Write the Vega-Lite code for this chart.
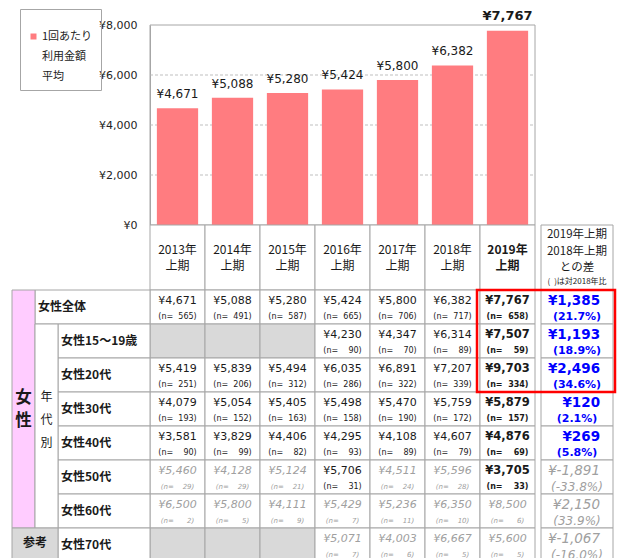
{
  "$schema": "https://vega.github.io/schema/vega-lite/v6.json",
  "width": 619,
  "height": 558,
  "autosize": {"type": "none"},
  "padding": 0,
  "config": {
    "view": {"stroke": null},
    "font": "Noto Sans CJK JP",
    "locale": {"number": {"decimal": ".", "thousands": ",", "grouping": [3], "currency": ["¥", ""], "minus": "-"}},
    "style": {"guide-label": {"lineHeight": 20}}
  },
  "datasets": {
    "table": [
      {"seg": "女性全体", "year": "2013", "value": 4671, "n": 565},
      {"seg": "女性全体", "year": "2014", "value": 5088, "n": 491},
      {"seg": "女性全体", "year": "2015", "value": 5280, "n": 587},
      {"seg": "女性全体", "year": "2016", "value": 5424, "n": 665},
      {"seg": "女性全体", "year": "2017", "value": 5800, "n": 706},
      {"seg": "女性全体", "year": "2018", "value": 6382, "n": 717},
      {"seg": "女性全体", "year": "2019", "value": 7767, "n": 658},
      {"seg": "女性15～19歳", "year": "2013", "value": null, "n": null},
      {"seg": "女性15～19歳", "year": "2014", "value": null, "n": null},
      {"seg": "女性15～19歳", "year": "2015", "value": null, "n": null},
      {"seg": "女性15～19歳", "year": "2016", "value": 4230, "n": 90},
      {"seg": "女性15～19歳", "year": "2017", "value": 4347, "n": 70},
      {"seg": "女性15～19歳", "year": "2018", "value": 6314, "n": 89},
      {"seg": "女性15～19歳", "year": "2019", "value": 7507, "n": 59},
      {"seg": "女性20代", "year": "2013", "value": 5419, "n": 251},
      {"seg": "女性20代", "year": "2014", "value": 5839, "n": 206},
      {"seg": "女性20代", "year": "2015", "value": 5494, "n": 312},
      {"seg": "女性20代", "year": "2016", "value": 6035, "n": 286},
      {"seg": "女性20代", "year": "2017", "value": 6891, "n": 322},
      {"seg": "女性20代", "year": "2018", "value": 7207, "n": 339},
      {"seg": "女性20代", "year": "2019", "value": 9703, "n": 334},
      {"seg": "女性30代", "year": "2013", "value": 4079, "n": 193},
      {"seg": "女性30代", "year": "2014", "value": 5054, "n": 152},
      {"seg": "女性30代", "year": "2015", "value": 5405, "n": 163},
      {"seg": "女性30代", "year": "2016", "value": 5498, "n": 158},
      {"seg": "女性30代", "year": "2017", "value": 5470, "n": 190},
      {"seg": "女性30代", "year": "2018", "value": 5759, "n": 172},
      {"seg": "女性30代", "year": "2019", "value": 5879, "n": 157},
      {"seg": "女性40代", "year": "2013", "value": 3581, "n": 90},
      {"seg": "女性40代", "year": "2014", "value": 3829, "n": 99},
      {"seg": "女性40代", "year": "2015", "value": 4406, "n": 82},
      {"seg": "女性40代", "year": "2016", "value": 4295, "n": 93},
      {"seg": "女性40代", "year": "2017", "value": 4108, "n": 89},
      {"seg": "女性40代", "year": "2018", "value": 4607, "n": 79},
      {"seg": "女性40代", "year": "2019", "value": 4876, "n": 69},
      {"seg": "女性50代", "year": "2013", "value": 5460, "n": 29},
      {"seg": "女性50代", "year": "2014", "value": 4128, "n": 29},
      {"seg": "女性50代", "year": "2015", "value": 5124, "n": 21},
      {"seg": "女性50代", "year": "2016", "value": 5706, "n": 31},
      {"seg": "女性50代", "year": "2017", "value": 4511, "n": 24},
      {"seg": "女性50代", "year": "2018", "value": 5596, "n": 28},
      {"seg": "女性50代", "year": "2019", "value": 3705, "n": 33},
      {"seg": "女性60代", "year": "2013", "value": 6500, "n": 2},
      {"seg": "女性60代", "year": "2014", "value": 5800, "n": 5},
      {"seg": "女性60代", "year": "2015", "value": 4111, "n": 9},
      {"seg": "女性60代", "year": "2016", "value": 5429, "n": 7},
      {"seg": "女性60代", "year": "2017", "value": 5236, "n": 11},
      {"seg": "女性60代", "year": "2018", "value": 6350, "n": 10},
      {"seg": "女性60代", "year": "2019", "value": 8500, "n": 6},
      {"seg": "女性70代", "year": "2013", "value": null, "n": null},
      {"seg": "女性70代", "year": "2014", "value": null, "n": null},
      {"seg": "女性70代", "year": "2015", "value": null, "n": null},
      {"seg": "女性70代", "year": "2016", "value": 5071, "n": 7},
      {"seg": "女性70代", "year": "2017", "value": 4003, "n": 6},
      {"seg": "女性70代", "year": "2018", "value": 6667, "n": 5},
      {"seg": "女性70代", "year": "2019", "value": 5600, "n": 5}
    ],
    "diff": [
      {"seg": "女性全体", "diff": 1385, "pct": 21.7, "minN": 658},
      {"seg": "女性15～19歳", "diff": 1193, "pct": 18.9, "minN": 59},
      {"seg": "女性20代", "diff": 2496, "pct": 34.6, "minN": 334},
      {"seg": "女性30代", "diff": 120, "pct": 2.1, "minN": 157},
      {"seg": "女性40代", "diff": 269, "pct": 5.8, "minN": 69},
      {"seg": "女性50代", "diff": -1891, "pct": -33.8, "minN": 28},
      {"seg": "女性60代", "diff": 2150, "pct": 33.9, "minN": 6},
      {"seg": "女性70代", "diff": -1067, "pct": -16.0, "minN": 5}
    ]
  },
  "resolve": {"scale": {"x": "independent", "y": "independent"}},
  "layer": [
    {
      "layer": [
        {
          "data": {"values": [{"v": 2000}, {"v": 4000}, {"v": 6000}]},
          "mark": {"type": "rule", "color": "#BFBFBF", "strokeDash": [3, 2], "strokeWidth": 1},
          "encoding": {
            "y": {"field": "v", "type": "quantitative", "scale": {"domain": [0, 8000], "range": [225, 25], "nice": false, "zero": true}},
            "x": {"datum": "2013", "type": "nominal", "bandPosition": 0, "scale": {"domain": ["2013", "2014", "2015", "2016", "2017", "2018", "2019"], "range": [150, 535], "paddingInner": 0, "paddingOuter": 0}, "axis": null},
            "x2": {"datum": "2019", "bandPosition": 1}
          }
        },
        {
          "data": {"values": [{}]},
          "mark": {"type": "rect", "fill": "transparent", "stroke": "#A6A6A6", "strokeWidth": 1},
          "encoding": {
            "x": {"datum": "2013", "type": "nominal", "bandPosition": 0, "scale": {"domain": ["2013", "2014", "2015", "2016", "2017", "2018", "2019"], "range": [150, 535], "paddingInner": 0, "paddingOuter": 0}, "axis": null},
            "x2": {"datum": "2019", "bandPosition": 1},
            "y": {"datum": 8000, "type": "quantitative", "scale": {"domain": [0, 8000], "range": [225, 25], "nice": false, "zero": true}},
            "y2": {"datum": 0}
          }
        },
        {
          "data": {"name": "table"},
          "transform": [{"filter": "datum.seg === '女性全体'"}],
          "mark": {"type": "bar", "width": {"band": 0.75}},
          "encoding": {
            "x": {"field": "year", "type": "nominal", "scale": {"domain": ["2013", "2014", "2015", "2016", "2017", "2018", "2019"], "range": [150, 535], "paddingInner": 0, "paddingOuter": 0}, "axis": null},
            "y": {"field": "value", "type": "quantitative", "scale": {"domain": [0, 8000], "range": [225, 25], "nice": false, "zero": true},
              "axis": {"orient": "left", "offset": -150, "values": [0, 2000, 4000, 6000, 8000], "format": "$,.0f", "ticks": false, "labelPadding": 13, "domain": true, "domainColor": "#A6A6A6", "grid": false, "title": null, "labelFont": "DejaVu Sans", "labelFontSize": 11, "labelColor": "#222222"}},
            "color": {"datum": "1回あたり利用金額平均", "type": "nominal", "scale": {"range": ["#FF7C80"]},
              "legend": {"orient": "none", "legendX": 20, "legendY": 9, "title": "\u3000", "titleFontSize": 10, "titlePadding": 4, "labelExpr": "['1回あたり', '利用金額', '平均']", "labelBaseline": "middle", "strokeColor": "#A6A6A6", "padding": 8, "symbolType": "square", "symbolSize": 36, "symbolStrokeWidth": 0, "labelFontSize": 11, "labelFont": "Noto Sans CJK JP", "labelLimit": 0, "labelColor": "#222222", "labelOffset": 3}}
          }
        },
        {
          "data": {"name": "table"},
          "transform": [{"filter": "datum.seg === '女性全体' && datum.year !== '2019'"}],
          "mark": {"type": "text", "font": "DejaVu Sans", "fontSize": 12, "dy": -10, "baseline": "alphabetic", "color": "#1a1a1a"},
          "encoding": {
            "x": {"field": "year", "type": "nominal", "scale": {"domain": ["2013", "2014", "2015", "2016", "2017", "2018", "2019"], "range": [150, 535], "paddingInner": 0, "paddingOuter": 0}, "axis": null},
            "y": {"field": "value", "type": "quantitative", "scale": {"domain": [0, 8000], "range": [225, 25], "nice": false, "zero": true}},
            "text": {"field": "value", "type": "quantitative", "format": "$,"}
          }
        },
        {
          "data": {"name": "table"},
          "transform": [{"filter": "datum.seg === '女性全体' && datum.year === '2019'"}],
          "mark": {"type": "text", "font": "DejaVu Sans", "fontSize": 13, "fontWeight": "bold", "dy": -11, "baseline": "alphabetic", "color": "#1a1a1a"},
          "encoding": {
            "x": {"field": "year", "type": "nominal", "scale": {"domain": ["2013", "2014", "2015", "2016", "2017", "2018", "2019"], "range": [150, 535], "paddingInner": 0, "paddingOuter": 0}, "axis": null},
            "y": {"field": "value", "type": "quantitative", "scale": {"domain": [0, 8000], "range": [225, 25], "nice": false, "zero": true}},
            "text": {"field": "value", "type": "quantitative", "format": "$,"}
          }
        }
      ]
    },
    {
      "data": {"name": "table"},
      "transform": [{"filter": "datum.seg === '女性全体'"}],
      "encoding": {
        "x": {"field": "year", "type": "nominal", "scale": {"domain": ["2013", "2014", "2015", "2016", "2017", "2018", "2019"], "range": [150, 535], "paddingInner": 0, "paddingOuter": 0}, "axis": null},
        "y": {"datum": "header", "type": "nominal", "scale": {"domain": ["header"], "range": [225, 290], "paddingInner": 0, "paddingOuter": 0}, "axis": null}
      },
      "layer": [
        {"mark": {"type": "rect", "fill": "#FFFFFF", "stroke": "#A6A6A6", "strokeWidth": 1}},
        {
          "transform": [{"filter": "datum.year !== '2019'"}],
          "mark": {"type": "text", "text": {"expr": "[datum.year + '年', '上期']"}, "fontSize": 12, "lineHeight": 15.5, "dy": -7.5, "baseline": "middle", "color": "#1a1a1a"}
        },
        {
          "transform": [{"filter": "datum.year === '2019'"}],
          "mark": {"type": "text", "text": {"expr": "[datum.year + '年', '上期']"}, "fontSize": 12, "fontWeight": "bold", "lineHeight": 15.5, "dy": -7.5, "baseline": "middle", "color": "#1a1a1a"}
        }
      ]
    },
    {
      "data": {"values": [{"lines": ["2019年上期", "2018年上期", "との差"], "note": "(\u2002)は対2018年比"}]},
      "encoding": {
        "x": {"datum": "diff", "type": "nominal", "scale": {"domain": ["diff"], "range": [541, 613], "paddingInner": 0, "paddingOuter": 0}, "axis": null}
      },
      "layer": [
        {
          "mark": {"type": "rect", "fill": "#FFFFFF", "stroke": "#A6A6A6", "strokeWidth": 1},
          "encoding": {"y": {"datum": "header", "type": "nominal", "scale": {"domain": ["header"], "range": [225, 290], "paddingInner": 0, "paddingOuter": 0}, "axis": null}}
        },
        {
          "mark": {"type": "text", "fontSize": 11.5, "lineHeight": 16.5, "baseline": "middle", "color": "#1a1a1a"},
          "encoding": {
            "y": {"datum": "header", "type": "nominal", "bandPosition": 0.155, "scale": {"domain": ["header"], "range": [225, 290], "paddingInner": 0, "paddingOuter": 0}, "axis": null},
            "text": {"field": "lines", "type": "nominal"}
          }
        },
        {
          "mark": {"type": "text", "fontSize": 8, "baseline": "middle", "color": "#1a1a1a"},
          "encoding": {
            "y": {"datum": "header", "type": "nominal", "bandPosition": 0.875, "scale": {"domain": ["header"], "range": [225, 290], "paddingInner": 0, "paddingOuter": 0}, "axis": null},
            "text": {"field": "note", "type": "nominal"}
          }
        }
      ]
    },
    {
      "resolve": {"scale": {"x": "independent"}},
      "layer": [
        {
          "data": {"name": "table"},
          "encoding": {
            "x": {"field": "year", "type": "nominal", "scale": {"domain": ["2013", "2014", "2015", "2016", "2017", "2018", "2019"], "range": [150, 535], "paddingInner": 0, "paddingOuter": 0}, "axis": null}
          },
          "layer": [
            {
              "mark": {"type": "rect", "stroke": "#A6A6A6", "strokeWidth": 1},
              "encoding": {
                "y": {"field": "seg", "type": "nominal", "scale": {"domain": ["女性全体", "女性15～19歳", "女性20代", "女性30代", "女性40代", "女性50代", "女性60代", "女性70代"], "range": [290, 562], "paddingInner": 0, "paddingOuter": 0}, "axis": null},
                "fill": {"condition": {"test": "!isValid(datum.value)", "value": "#D9D9D9"}, "value": "#FFFFFF"}
              }
            },
            {
              "transform": [{"filter": "isValid(datum.value) && datum.n >= 30 && datum.year !== '2019'"}],
              "mark": {"type": "text", "font": "DejaVu Sans", "fontSize": 11, "baseline": "middle", "color": "#1a1a1a"},
              "encoding": {
                "y": {"field": "seg", "type": "nominal", "bandPosition": 0.31, "scale": {"domain": ["女性全体", "女性15～19歳", "女性20代", "女性30代", "女性40代", "女性50代", "女性60代", "女性70代"], "range": [290, 562], "paddingInner": 0, "paddingOuter": 0}, "axis": null},
                "text": {"field": "value", "type": "quantitative", "format": "$,"}
              }
            },
            {
              "transform": [{"filter": "isValid(datum.value) && datum.n >= 30 && datum.year !== '2019'"}],
              "mark": {"type": "text", "font": "DejaVu Sans", "fontSize": 8, "baseline": "middle", "color": "#1a1a1a", "text": {"expr": "'(n=' + pad(datum.n + '', 4, '\u2007', 'left') + ')'"}},
              "encoding": {
                "y": {"field": "seg", "type": "nominal", "bandPosition": 0.79, "scale": {"domain": ["女性全体", "女性15～19歳", "女性20代", "女性30代", "女性40代", "女性50代", "女性60代", "女性70代"], "range": [290, 562], "paddingInner": 0, "paddingOuter": 0}, "axis": null}
              }
            },
            {
              "transform": [{"filter": "isValid(datum.value) && datum.n >= 30 && datum.year === '2019'"}],
              "mark": {"type": "text", "font": "DejaVu Sans", "fontSize": 11.5, "fontWeight": "bold", "baseline": "middle", "color": "#1a1a1a"},
              "encoding": {
                "y": {"field": "seg", "type": "nominal", "bandPosition": 0.31, "scale": {"domain": ["女性全体", "女性15～19歳", "女性20代", "女性30代", "女性40代", "女性50代", "女性60代", "女性70代"], "range": [290, 562], "paddingInner": 0, "paddingOuter": 0}, "axis": null},
                "text": {"field": "value", "type": "quantitative", "format": "$,"}
              }
            },
            {
              "transform": [{"filter": "isValid(datum.value) && datum.n >= 30 && datum.year === '2019'"}],
              "mark": {"type": "text", "font": "DejaVu Sans", "fontSize": 8, "fontWeight": "bold", "baseline": "middle", "color": "#1a1a1a", "text": {"expr": "'(n=' + pad(datum.n + '', 4, '\u2007', 'left') + ')'"}},
              "encoding": {
                "y": {"field": "seg", "type": "nominal", "bandPosition": 0.79, "scale": {"domain": ["女性全体", "女性15～19歳", "女性20代", "女性30代", "女性40代", "女性50代", "女性60代", "女性70代"], "range": [290, 562], "paddingInner": 0, "paddingOuter": 0}, "axis": null}
              }
            },
            {
              "transform": [{"filter": "isValid(datum.value) && datum.n < 30"}],
              "mark": {"type": "text", "font": "DejaVu Sans", "fontSize": 11, "fontStyle": "italic", "baseline": "middle", "color": "#A0A0A0"},
              "encoding": {
                "y": {"field": "seg", "type": "nominal", "bandPosition": 0.31, "scale": {"domain": ["女性全体", "女性15～19歳", "女性20代", "女性30代", "女性40代", "女性50代", "女性60代", "女性70代"], "range": [290, 562], "paddingInner": 0, "paddingOuter": 0}, "axis": null},
                "text": {"field": "value", "type": "quantitative", "format": "$,"}
              }
            },
            {
              "transform": [{"filter": "isValid(datum.value) && datum.n < 30"}],
              "mark": {"type": "text", "font": "DejaVu Sans", "fontSize": 7, "fontStyle": "italic", "baseline": "middle", "color": "#A0A0A0", "text": {"expr": "'(n=' + pad(datum.n + '', 4, '\u2007', 'left') + ')'"}},
              "encoding": {
                "y": {"field": "seg", "type": "nominal", "bandPosition": 0.79, "scale": {"domain": ["女性全体", "女性15～19歳", "女性20代", "女性30代", "女性40代", "女性50代", "女性60代", "女性70代"], "range": [290, 562], "paddingInner": 0, "paddingOuter": 0}, "axis": null}
              }
            }
          ]
        },
        {
          "data": {"name": "diff"},
          "layer": [
            {
              "mark": {"type": "rect", "fill": "#FFFFFF", "stroke": "#A6A6A6", "strokeWidth": 1},
              "encoding": {
                "x": {"datum": "diff", "type": "nominal", "scale": {"domain": ["diff"], "range": [541, 613], "paddingInner": 0, "paddingOuter": 0}, "axis": null},
                "y": {"field": "seg", "type": "nominal", "scale": {"domain": ["女性全体", "女性15～19歳", "女性20代", "女性30代", "女性40代", "女性50代", "女性60代", "女性70代"], "range": [290, 562], "paddingInner": 0, "paddingOuter": 0}, "axis": null}
              }
            },
            {
              "transform": [{"filter": "datum.minN >= 30"}],
              "mark": {"type": "text", "font": "DejaVu Sans", "fontSize": 13.5, "fontWeight": "bold", "align": "right", "baseline": "middle", "color": "#0000FF", "text": {"expr": "'¥' + format(datum.diff, ',')"}},
              "encoding": {
                "x": {"datum": "diff", "type": "nominal", "bandPosition": 0.82, "scale": {"domain": ["diff"], "range": [541, 613], "paddingInner": 0, "paddingOuter": 0}, "axis": null},
                "y": {"field": "seg", "type": "nominal", "bandPosition": 0.31, "scale": {"domain": ["女性全体", "女性15～19歳", "女性20代", "女性30代", "女性40代", "女性50代", "女性60代", "女性70代"], "range": [290, 562], "paddingInner": 0, "paddingOuter": 0}, "axis": null}
              }
            },
            {
              "transform": [{"filter": "datum.minN >= 30"}],
              "mark": {"type": "text", "font": "DejaVu Sans", "fontSize": 11, "fontWeight": "bold", "baseline": "middle", "color": "#0000FF", "text": {"expr": "'(' + format(datum.pct, '.1f') + '%)'"}},
              "encoding": {
                "x": {"datum": "diff", "type": "nominal", "bandPosition": 0.5, "scale": {"domain": ["diff"], "range": [541, 613], "paddingInner": 0, "paddingOuter": 0}, "axis": null},
                "y": {"field": "seg", "type": "nominal", "bandPosition": 0.79, "scale": {"domain": ["女性全体", "女性15～19歳", "女性20代", "女性30代", "女性40代", "女性50代", "女性60代", "女性70代"], "range": [290, 562], "paddingInner": 0, "paddingOuter": 0}, "axis": null}
              }
            },
            {
              "transform": [{"filter": "datum.minN < 30"}],
              "mark": {"type": "text", "font": "DejaVu Sans", "fontSize": 13.5, "fontStyle": "italic", "align": "right", "baseline": "middle", "color": "#A0A0A0", "text": {"expr": "'¥' + format(datum.diff, ',')"}},
              "encoding": {
                "x": {"datum": "diff", "type": "nominal", "bandPosition": 0.82, "scale": {"domain": ["diff"], "range": [541, 613], "paddingInner": 0, "paddingOuter": 0}, "axis": null},
                "y": {"field": "seg", "type": "nominal", "bandPosition": 0.31, "scale": {"domain": ["女性全体", "女性15～19歳", "女性20代", "女性30代", "女性40代", "女性50代", "女性60代", "女性70代"], "range": [290, 562], "paddingInner": 0, "paddingOuter": 0}, "axis": null}
              }
            },
            {
              "transform": [{"filter": "datum.minN < 30"}],
              "mark": {"type": "text", "font": "DejaVu Sans", "fontSize": 12, "fontStyle": "italic", "baseline": "middle", "color": "#A0A0A0", "text": {"expr": "'(' + format(datum.pct, '.1f') + '%)'"}},
              "encoding": {
                "x": {"datum": "diff", "type": "nominal", "bandPosition": 0.5, "scale": {"domain": ["diff"], "range": [541, 613], "paddingInner": 0, "paddingOuter": 0}, "axis": null},
                "y": {"field": "seg", "type": "nominal", "bandPosition": 0.79, "scale": {"domain": ["女性全体", "女性15～19歳", "女性20代", "女性30代", "女性40代", "女性50代", "女性60代", "女性70代"], "range": [290, 562], "paddingInner": 0, "paddingOuter": 0}, "axis": null}
              }
            }
          ]
        },
        {
          "data": {"name": "diff"},
          "transform": [{"filter": "datum.seg === '女性全体'"}],
          "encoding": {
            "y": {"field": "seg", "type": "nominal", "scale": {"domain": ["女性全体", "女性15～19歳", "女性20代", "女性30代", "女性40代", "女性50代", "女性60代", "女性70代"], "range": [290, 562], "paddingInner": 0, "paddingOuter": 0}, "axis": null}
          },
          "layer": [
            {
              "mark": {"type": "rect", "fill": "#FFFFFF", "stroke": "#A6A6A6", "strokeWidth": 1},
              "encoding": {"x": {"datum": "label", "type": "nominal", "scale": {"domain": ["label"], "range": [35, 150], "paddingInner": 0, "paddingOuter": 0}, "axis": null}}
            },
            {
              "mark": {"type": "text", "fontSize": 12, "fontWeight": "bold", "align": "left", "dx": 3, "baseline": "middle", "color": "#1a1a1a"},
              "encoding": {
                "x": {"datum": "label", "type": "nominal", "bandPosition": 0, "scale": {"domain": ["label"], "range": [35, 150], "paddingInner": 0, "paddingOuter": 0}, "axis": null},
                "text": {"field": "seg", "type": "nominal"}
              }
            }
          ]
        },
        {
          "data": {"name": "diff"},
          "transform": [{"filter": "datum.seg !== '女性全体'"}],
          "encoding": {
            "y": {"field": "seg", "type": "nominal", "scale": {"domain": ["女性全体", "女性15～19歳", "女性20代", "女性30代", "女性40代", "女性50代", "女性60代", "女性70代"], "range": [290, 562], "paddingInner": 0, "paddingOuter": 0}, "axis": null}
          },
          "layer": [
            {
              "mark": {"type": "rect", "fill": "#FFFFFF", "stroke": "#A6A6A6", "strokeWidth": 1},
              "encoding": {"x": {"datum": "label", "type": "nominal", "scale": {"domain": ["label"], "range": [58, 150], "paddingInner": 0, "paddingOuter": 0}, "axis": null}}
            },
            {
              "mark": {"type": "text", "fontSize": 12, "fontWeight": "bold", "align": "left", "dx": 3, "baseline": "middle", "color": "#1a1a1a"},
              "encoding": {
                "x": {"datum": "label", "type": "nominal", "bandPosition": 0, "scale": {"domain": ["label"], "range": [58, 150], "paddingInner": 0, "paddingOuter": 0}, "axis": null},
                "text": {"field": "seg", "type": "nominal"}
              }
            }
          ]
        },
        {
          "layer": [
            {
              "data": {"values": [{"label": "女\n性"}]},
              "mark": {"type": "rect", "fill": "#FFCCFF", "stroke": "#A6A6A6", "strokeWidth": 1},
              "encoding": {
                "x": {"datum": "性別", "type": "nominal", "scale": {"domain": ["性別", "年代"], "range": [12, 58], "paddingInner": 0, "paddingOuter": 0}, "axis": null},
                "y": {"datum": "女性全体", "type": "nominal", "bandPosition": 0, "scale": {"domain": ["女性全体", "女性15～19歳", "女性20代", "女性30代", "女性40代", "女性50代", "女性60代", "女性70代"], "range": [290, 562], "paddingInner": 0, "paddingOuter": 0}, "axis": null},
                "y2": {"datum": "女性60代", "bandPosition": 1}
              }
            },
            {
              "data": {"values": [{"label": "女\n性"}]},
              "mark": {"type": "text", "fontSize": 16.5, "fontWeight": "bold", "lineBreak": "\n", "lineHeight": 22.5, "dy": -11, "baseline": "middle", "color": "#1a1a1a"},
              "encoding": {
                "x": {"datum": "性別", "type": "nominal", "scale": {"domain": ["性別", "年代"], "range": [12, 58], "paddingInner": 0, "paddingOuter": 0}, "axis": null},
                "y": {"datum": "女性30代", "type": "nominal", "bandPosition": 0.5, "scale": {"domain": ["女性全体", "女性15～19歳", "女性20代", "女性30代", "女性40代", "女性50代", "女性60代", "女性70代"], "range": [290, 562], "paddingInner": 0, "paddingOuter": 0}, "axis": null},
                "text": {"field": "label", "type": "nominal"}
              }
            },
            {
              "data": {"values": [{"label": "年\n代\n別"}]},
              "mark": {"type": "rect", "fill": "#FFFFFF", "stroke": "#A6A6A6", "strokeWidth": 1},
              "encoding": {
                "x": {"datum": "年代", "type": "nominal", "scale": {"domain": ["性別", "年代"], "range": [12, 58], "paddingInner": 0, "paddingOuter": 0}, "axis": null},
                "y": {"datum": "女性15～19歳", "type": "nominal", "bandPosition": 0, "scale": {"domain": ["女性全体", "女性15～19歳", "女性20代", "女性30代", "女性40代", "女性50代", "女性60代", "女性70代"], "range": [290, 562], "paddingInner": 0, "paddingOuter": 0}, "axis": null},
                "y2": {"datum": "女性60代", "bandPosition": 1}
              }
            },
            {
              "data": {"values": [{"label": "年\n代\n別"}]},
              "mark": {"type": "text", "fontSize": 12, "lineBreak": "\n", "lineHeight": 23, "baseline": "middle", "dy": -29, "color": "#1a1a1a"},
              "encoding": {
                "x": {"datum": "年代", "type": "nominal", "scale": {"domain": ["性別", "年代"], "range": [12, 58], "paddingInner": 0, "paddingOuter": 0}, "axis": null},
                "y": {"datum": "女性40代", "type": "nominal", "bandPosition": 0, "scale": {"domain": ["女性全体", "女性15～19歳", "女性20代", "女性30代", "女性40代", "女性50代", "女性60代", "女性70代"], "range": [290, 562], "paddingInner": 0, "paddingOuter": 0}, "axis": null},
                "text": {"field": "label", "type": "nominal"}
              }
            },
            {
              "data": {"values": [{"label": "参考"}]},
              "mark": {"type": "rect", "fill": "#D9D9D9", "stroke": "#A6A6A6", "strokeWidth": 1},
              "encoding": {
                "x": {"datum": "性別", "type": "nominal", "bandPosition": 0, "scale": {"domain": ["性別", "年代"], "range": [12, 58], "paddingInner": 0, "paddingOuter": 0}, "axis": null},
                "x2": {"datum": "年代", "bandPosition": 1},
                "y": {"datum": "女性70代", "type": "nominal", "scale": {"domain": ["女性全体", "女性15～19歳", "女性20代", "女性30代", "女性40代", "女性50代", "女性60代", "女性70代"], "range": [290, 562], "paddingInner": 0, "paddingOuter": 0}, "axis": null}
              }
            },
            {
              "data": {"values": [{"label": "参考"}]},
              "mark": {"type": "text", "fontSize": 12, "fontWeight": "bold", "baseline": "middle", "color": "#1a1a1a"},
              "encoding": {
                "x": {"datum": "年代", "type": "nominal", "bandPosition": 0, "scale": {"domain": ["性別", "年代"], "range": [12, 58], "paddingInner": 0, "paddingOuter": 0}, "axis": null},
                "y": {"datum": "女性70代", "type": "nominal", "bandPosition": 0.45, "scale": {"domain": ["女性全体", "女性15～19歳", "女性20代", "女性30代", "女性40代", "女性50代", "女性60代", "女性70代"], "range": [290, 562], "paddingInner": 0, "paddingOuter": 0}, "axis": null},
                "text": {"field": "label", "type": "nominal"}
              }
            }
          ]
        },
        {
          "data": {"values": [{}]},
          "mark": {"type": "rect", "fill": "transparent", "stroke": "#FF0000", "strokeWidth": 2.5},
          "encoding": {
            "x": {"datum": "2019", "type": "nominal", "scale": {"type": "point", "domain": ["2019", "diff"], "range": [477, 615], "padding": 0}, "axis": null},
            "x2": {"datum": "diff"},
            "y": {"datum": "女性全体", "type": "nominal", "bandPosition": 0, "scale": {"domain": ["女性全体", "女性15～19歳", "女性20代", "女性30代", "女性40代", "女性50代", "女性60代", "女性70代"], "range": [290, 562], "paddingInner": 0, "paddingOuter": 0}, "axis": null},
            "y2": {"datum": "女性20代", "bandPosition": 1}
          }
        }
      ]
    }
  ]
}
